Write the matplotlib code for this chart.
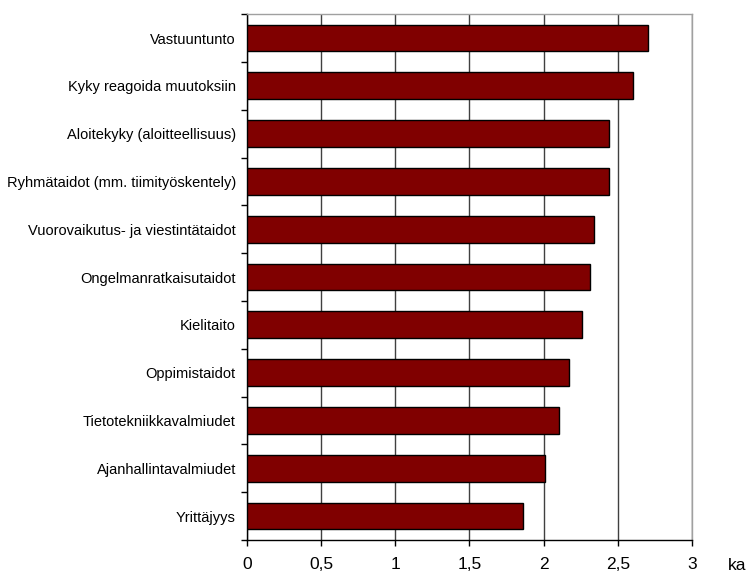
import matplotlib.pyplot as plt

plt.rcParams['font.family'] = ['Liberation Sans', 'DejaVu Sans']

# Osaamisalueet ja keskiarvot (ka)
skills = [
    'Vastuuntunto',
    'Kyky reagoida muutoksiin',
    'Aloitekyky (aloitteellisuus)',
    'Ryhmätaidot (mm. tiimityöskentely)',
    'Vuorovaikutus- ja viestintätaidot',
    'Ongelmanratkaisutaidot',
    'Kielitaito',
    'Oppimistaidot',
    'Tietotekniikkavalmiudet',
    'Ajanhallintavalmiudet',
    'Yrittäjyys',
]
means = [2.70, 2.60, 2.44, 2.44, 2.34, 2.31, 2.26, 2.17, 2.10, 2.01, 1.86]

xticks = [0, 0.5, 1, 1.5, 2, 2.5, 3]
xtick_labels = ['0', '0,5', '1', '1,5', '2', '2,5', '3']

fig = plt.figure(figsize=(7.53, 5.76), dpi=100)
ax = fig.add_axes([0.328, 0.0625, 0.591, 0.913])

n = len(skills)
ypos = list(range(n))
ax.barh(ypos, means, height=0.56, color='#800000', edgecolor='black',
        linewidth=1, zorder=3)

ax.set_xlim(0, 3)
ax.set_ylim(n - 0.5, -0.5)

ax.set_xticks(xticks)
ax.set_xticklabels(xtick_labels, fontsize=12.5)
ax.tick_params(axis='x', direction='out', length=4, width=1, pad=8.5, colors='black')

# kategoriarajoilla tikit, nimet keskelle
ax.set_yticks([i - 0.5 for i in range(n + 1)])
ax.set_yticklabels([])
ax.tick_params(axis='y', which='major', direction='out', length=4, width=1)
ax.set_yticks(ypos, minor=True)
ax.set_yticklabels(skills, minor=True, fontsize=10.5)
ax.tick_params(axis='y', which='minor', length=0, pad=8)

ax.grid(axis='x', color='#404040', linewidth=1, zorder=0)
ax.set_axisbelow(True)

ax.spines['left'].set_color('black')
ax.spines['bottom'].set_color('black')
ax.spines['top'].set_color('#a0a0a0')
ax.spines['right'].set_color('#a0a0a0')
for s in ax.spines.values():
    s.set_linewidth(1)

fig.text(0.967, 0.019, 'ka', fontsize=12.5, ha='left', va='center')

fig.savefig('out.png', dpi=100)
